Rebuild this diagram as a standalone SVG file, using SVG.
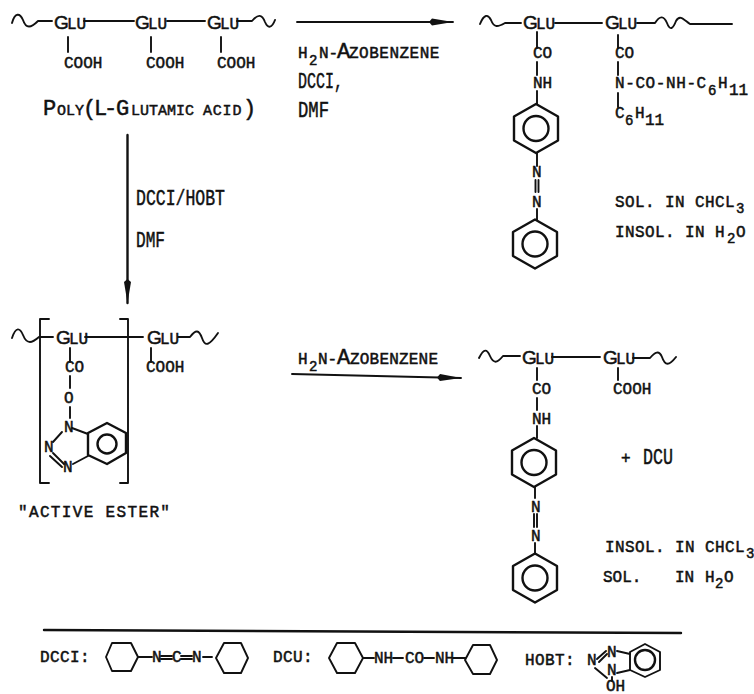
<svg xmlns="http://www.w3.org/2000/svg" width="754" height="694" viewBox="0 0 754 694">
<style>
text{font-family:"Liberation Mono","DejaVu Sans Mono",monospace;font-size:16px;fill:#111;stroke:#111;stroke-width:.5px}
.big{font-size:22px}
.sm{font-size:15px}
.sub{font-size:14px}
.g{font-family:"Liberation Sans",Arial,sans-serif;font-size:19px}
.u{font-size:16px}
.n{stroke:#111;stroke-width:1.9;fill:none;stroke-linecap:round;stroke-linejoin:round}
.t{stroke-width:2.4}
</style>
<defs>
<marker id="head" markerUnits="userSpaceOnUse" markerWidth="26" markerHeight="8" refX="24" refY="4" orient="auto"><path d="M0 4 L3 .5 L24 4 L3 7.500 Z" fill="#111"/></marker>
<g id="ring"><path class="n t" d="M0-24.5 22-12 22 12 0 24.5-22 12-22-12Z"/><circle class="n t" r="12.5"/></g>
</defs>

<g id="connectors" class="n">
<path d="M297 22 H453" marker-end="url(#head)"/>
<path class="t" d="M127.500 135 V303" marker-end="url(#head)"/>
<path d="M292 374 L461 378" marker-end="url(#head)"/>
<path class="t" d="M44 630 L681 633"/>
</g>

<g id="poly-glutamic-acid">
<path class="n" d="M12 23 C15 12 20 13 23 20 C26 29 31 28 38 21 H52 M84 21 H134 M167 21 H205 M237 21 H252 C258 14 262 14 265 22 C268 29 272 28 275 20 M68 37 V52 M151 37 V52 M221 37 V52"/>
<text y="29"><tspan class="g" x="54">G</tspan><tspan class="u" x="67">LU</tspan></text>
<text y="29"><tspan class="g" x="135">G</tspan><tspan class="u" x="148">LU</tspan></text>
<text y="29"><tspan class="g" x="207">G</tspan><tspan class="u" x="220">LU</tspan></text>
<text x="64" y="68">COOH</text><text x="146" y="68">COOH</text><text x="217" y="68">COOH</text>
<text y="115"><tspan class="big" x="43">P</tspan><tspan class="sm" x="57">OLY</tspan><tspan class="big" x="83">(</tspan><tspan class="big" x="94">L</tspan><tspan class="big" x="104">-</tspan><tspan class="big" x="116">G</tspan><tspan class="sm" x="131">LUTAMIC</tspan><tspan class="sm" x="203" letter-spacing=".8">ACID</tspan><tspan class="big" x="243">)</tspan></text>
</g>

<g id="reagents-top">
<text y="58"><tspan x="298">H</tspan><tspan class="sub" x="309" y="65">2</tspan><tspan x="319" y="58">N-</tspan><tspan class="big" x="337">A</tspan><tspan x="349" letter-spacing=".5">ZOBENZENE</tspan></text>
<text class="big" x="298" y="88" textLength="45" lengthAdjust="spacingAndGlyphs">DCCI,</text>
<text class="big" x="298" y="117" textLength="31" lengthAdjust="spacingAndGlyphs">DMF</text>
</g>

<g id="reagents-left">
<text class="big" x="136" y="205" textLength="89" lengthAdjust="spacingAndGlyphs">DCCI/HOBT</text>
<text class="big" x="136" y="247" textLength="29" lengthAdjust="spacingAndGlyphs">DMF</text>
</g>

<g id="product-top">
<path class="n" d="M480 24 C484 14 488 14 491 20 C494 28 498 27 505 23 H521 M555 23 H602 M637 23 H655 C660 15 664 16 667 23 C670 31 673 29 676 21 C680 14 684 20 690 24 H732 M537 32 V48 M537 62 V75 M537 91 V104 M537 153 V166 M535.500 180 V192 M538.500 180 V192 M537 209 V220 M618 35 V48 M618 62 V75 M618 93 V107"/>
<text y="29"><tspan class="g" x="523">G</tspan><tspan class="u" x="536">LU</tspan></text>
<text y="29"><tspan class="g" x="605">G</tspan><tspan class="u" x="618">LU</tspan></text>
<text x="533" y="58">CO</text><text x="533" y="88">NH</text>
<use href="#ring" x="536" y="128.500"/>
<text x="532" y="177">N</text><text x="532" y="207">N</text>
<use href="#ring" x="535" y="244"/>
<text x="615" y="58">CO</text>
<text y="88"><tspan x="615" letter-spacing=".6">N-CO-NH-C</tspan><tspan class="sub" x="708" y="95">6</tspan><tspan x="718" y="88">H</tspan><tspan x="729" y="95">11</tspan></text>
<text y="118"><tspan x="615">C</tspan><tspan class="sub" x="625" y="125">6</tspan><tspan x="635" y="118">H</tspan><tspan x="645" y="125">11</tspan></text>
<text y="207" letter-spacing=".4"><tspan x="615">SOL. IN CHCL</tspan><tspan class="sub" x="736" y="213">3</tspan></text>
<text y="237" letter-spacing=".4"><tspan x="615">INSOL. IN H</tspan><tspan class="sub" x="727" y="243">2</tspan><tspan x="736" y="237">O</tspan></text>
</g>

<g id="active-ester">
<path class="n" d="M12 338 C16 326 20 328 23 335 C27 345 32 343 39 337 H53 M85 337 H143 M178 337 H190 C196 329 199 330 202 338 C205 347 209 346 218 333 M49 319 H40 V483 H49 M120 319 H128 V483 H120 M70 348 V362 M70 376 V388 M70 407 V418 M62 432 L53 442 M50 456 L62 467 M53 453 L64 464 M73 464 L88 456 M72 428 L88 434 M151 348 V362"/>
<path class="n t" d="M88 433 L107 423 L126 433 L126 453 L107 464 L88 455 Z"/>
<circle class="n t" cx="107" cy="444" r="9.500"/>
<text y="344"><tspan class="g" x="56">G</tspan><tspan class="u" x="69">LU</tspan></text>
<text y="344"><tspan class="g" x="147">G</tspan><tspan class="u" x="160">LU</tspan></text>
<text x="65" y="372">CO</text><text x="146" y="372">COOH</text>
<text x="64" y="403">O</text>
<text x="64" y="432">N</text><text x="44" y="452">N</text><text x="63" y="472">N</text>
<text x="18" y="517" letter-spacing="1.350">"ACTIVE ESTER"</text>
</g>

<g id="product-bottom">
<path class="n" d="M479 358 C484 348 487 349 490 356 C494 365 498 362 503 356 H520 M552 357 H600 M633 358 H650 C655 352 659 350 662 357 C665 366 669 366 676 357 M537 368 V380 M537 398 V410 M537 426 V438 M535 487 V498 M534 514 V527 M537 514 V527 M535 543 V553 M618 368 V380"/>
<text y="364"><tspan class="g" x="522">G</tspan><tspan class="u" x="535">LU</tspan></text>
<text y="364"><tspan class="g" x="603">G</tspan><tspan class="u" x="616">LU</tspan></text>
<text x="532" y="394">CO</text><text x="532" y="424">NH</text>
<use href="#ring" x="534" y="462.500"/>
<text x="531" y="512">N</text><text x="531" y="541">N</text>
<use href="#ring" x="535" y="578"/>
<text x="613" y="394">COOH</text>
<text x="621" y="463">+</text>
<text class="big" x="643" y="464" textLength="30" lengthAdjust="spacingAndGlyphs">DCU</text>
<text y="552" letter-spacing=".4"><tspan x="605">INSOL. IN CHCL</tspan><tspan class="sub" x="746" y="558">3</tspan></text>
<text y="582"><tspan x="603">SOL.</tspan><tspan x="675">IN</tspan><tspan x="705">H</tspan><tspan class="sub" x="715" y="588">2</tspan><tspan x="724" y="582">O</tspan></text>
</g>

<g id="reaction-label-bottom">
<text y="364"><tspan x="298">H</tspan><tspan class="sub" x="309" y="371">2</tspan><tspan x="318" y="364">N-</tspan><tspan class="big" x="337">A</tspan><tspan x="350" letter-spacing=".2">ZOBENZENE</tspan></text>
</g>

<g id="dcci">
<text x="40" y="662" letter-spacing=".4">DCCI:</text>
<path class="n" d="M106 657 L112 643 L131 643 L138 657 L131 671 L112 671 Z M216 658 L224 643 L241 643 L248 658 L241 673 L224 673 Z M138 657 H152 M203 657 H212 M161 656 H172 M161 659 H172 M181 656 H192 M181 659 H192"/>
<text x="152" y="662">N</text><text x="172" y="662">C</text><text x="192" y="662">N</text>
</g>

<g id="dcu">
<text x="273" y="662" letter-spacing=".4">DCU:</text>
<path class="n" d="M329 658 L337 643 L355 643 L363 658 L355 673 L337 673 Z M465 660 L473 645 L490 645 L497 660 L490 674 L473 674 Z M363 658 H374 M393 658 H403 M424 658 H434 M453 658 H465"/>
<text x="374" y="663">NH</text><text x="405" y="663">CO</text><text x="435" y="663">NH</text>
</g>

<g id="hobt">
<text x="525" y="665" letter-spacing=".4">HOBT:</text>
<path class="n" d="M597 659 L606 651 M599 662 L607 654 M595 668 L607 678 M617 651 L630 654 M617 673 L630 670 M612 677 V681"/>
<path class="n" d="M630 652 L645 644 L660 652 L660 670 L645 677 L630 670 Z"/>
<circle class="n t" cx="645" cy="660" r="10"/>
<text x="587" y="665">N</text><text x="607" y="657">N</text><text x="607" y="675">N</text><text x="606" y="691">OH</text>
</g>
</svg>
